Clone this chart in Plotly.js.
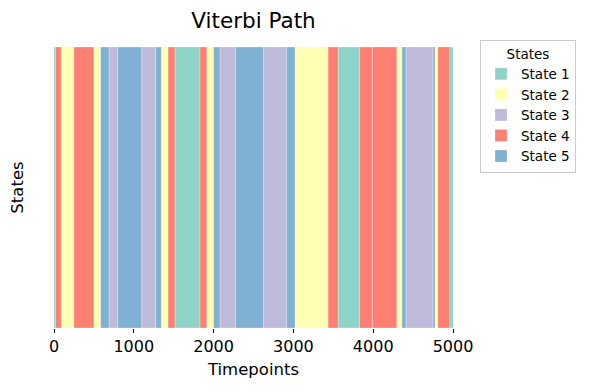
<!DOCTYPE html>
<html>
<head>
<meta charset="utf-8">
<script src="https://cdn.plot.ly/plotly-3.0.1.min.js"></script>
<style>html,body{margin:0;padding:0;background:#fff;}#chart{width:589px;height:390px;}</style>
</head>
<body>
<div id="chart"></div>
<script>
// Segments of the Viterbi path (timepoint start, end, state index 1..5)
const segStart = [0, 20, 90, 250, 500, 585, 690, 800, 1100, 1275, 1345, 1430, 1515, 1830, 1915, 2000, 2080, 2275, 2625, 2915, 3020, 3435, 3560, 3830, 3990, 4295, 4360, 4410, 4750, 4775, 4810, 4960];
const segEnd   = [20, 90, 250, 500, 585, 690, 800, 1100, 1275, 1345, 1430, 1515, 1830, 1915, 2000, 2080, 2275, 2625, 2915, 3020, 3435, 3560, 3830, 3990, 4295, 4360, 4410, 4750, 4775, 4810, 4960, 5000];
const segState = [1, 4, 2, 4, 2, 5, 3, 5, 3, 5, 2, 4, 1, 4, 2, 5, 3, 5, 3, 5, 2, 4, 1, 4, 4, 2, 5, 3, 5, 2, 4, 1];

const stateNames  = ['State 1', 'State 2', 'State 3', 'State 4', 'State 5'];
const stateColors = ['#8dd3c7', '#ffffb3', '#bebada', '#fb8072', '#80b1d3'];
const xTickVals = [0, 1000, 2000, 3000, 4000, 5000];

const FONT = 'DejaVu Sans, sans-serif';

const traces = stateNames.map((name, k) => {
  const xs = [], ws = [], ys = [];
  segState.forEach((s, i) => {
    if (s === k + 1) {
      xs.push((segStart[i] + segEnd[i]) / 2);
      ws.push(segEnd[i] - segStart[i]);
      ys.push(1);
    }
  });
  return {
    type: 'bar', name: name, x: xs, y: ys, width: ws, base: 0,
    marker: {color: stateColors[k], line: {color: 'rgba(255,255,255,0.35)', width: 0.8}},
    hoverinfo: 'skip', showlegend: true
  };
});

const layout = {
  width: 589, height: 390,
  margin: {l: 54, r: 136, t: 47, b: 62},
  paper_bgcolor: '#ffffff', plot_bgcolor: '#ffffff',
  font: {family: FONT, color: '#000000'},
  barmode: 'overlay', bargap: 0,
  title: {text: 'Viterbi Path', font: {family: FONT, size: 21.5, color: '#000'},
          x: 0.5, xref: 'paper', y: 1 - 20 / 390, yref: 'container', yanchor: 'middle'},
  xaxis: {
    range: [0, 5000], tickvals: xTickVals, ticktext: xTickVals.map(String),
    ticks: 'outside', ticklen: 4, tickwidth: 1, tickcolor: '#000',
    showgrid: false, zeroline: false, showline: false,
    tickfont: {family: FONT, size: 16, color: '#000'},
    title: {text: 'Timepoints', font: {family: FONT, size: 16.5, color: '#000'}, standoff: 8},
    automargin: false
  },
  yaxis: {
    range: [0, 1], showticklabels: false, ticks: '', showgrid: false, zeroline: false, showline: false,
    title: {text: 'States', font: {family: FONT, size: 16.5, color: '#000'}, standoff: 25},
    automargin: false
  },
  legend: {
    x: (480 - 54) / 399, xanchor: 'left', y: (328 - 40) / 281, yanchor: 'top',
    bordercolor: '#cccccc', borderwidth: 1, bgcolor: '#ffffff',
    font: {family: FONT, size: 13.5, color: '#000'},
    title: {text: 'States', side: 'top center', font: {family: FONT, size: 13.5, color: '#000'}},
    traceorder: 'normal'
  },
  showlegend: true
};

Plotly.newPlot('chart', traces, layout, {displayModeBar: false, staticPlot: true});
</script>
</body>
</html>
